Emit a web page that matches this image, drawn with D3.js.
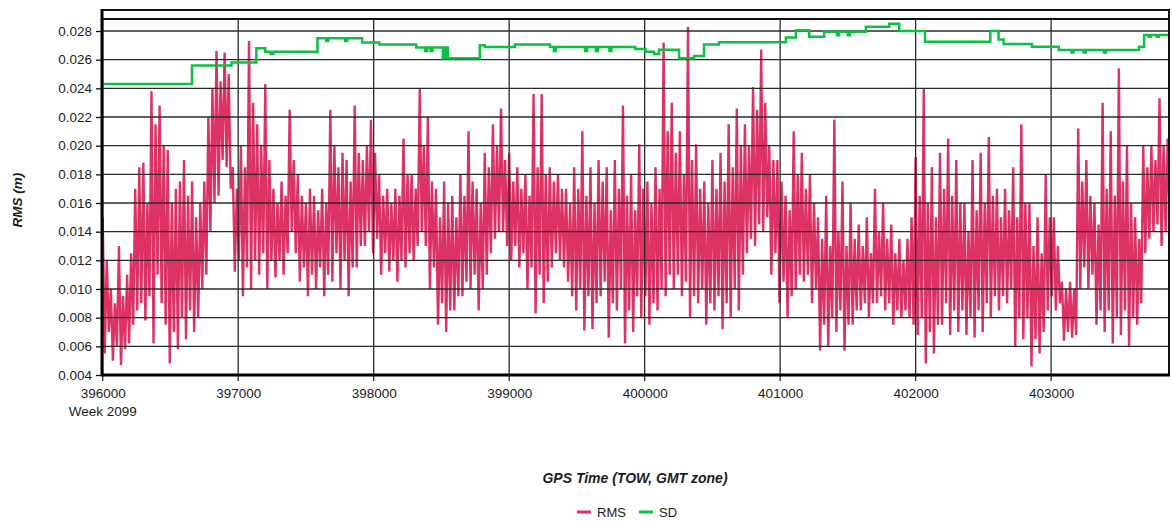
<!DOCTYPE html>
<html>
<head>
<meta charset="utf-8">
<script src="https://cdn.jsdelivr.net/npm/d3@7/dist/d3.min.js"></script>
<style>
  html, body { margin: 0; padding: 0; background: #fff; }
  svg { display: block; font-family: "Liberation Sans", Arial, sans-serif; }
</style>
</head>
<body>
<div id="chart"></div>
<script>
// ---- data ----
var xTicks = [396000, 397000, 398000, 399000, 400000, 401000, 402000, 403000];
var yTicks = [0.004, 0.006, 0.008, 0.010, 0.012, 0.014, 0.016, 0.018, 0.020, 0.022, 0.024, 0.026, 0.028];
var weekLabel = "Week 2099";

// RMS samples, one every 15 s from TOW 396000 (four per row-minute: spike, dip, peak, trough)
var rmsStart = 396000, rmsStep = 15;
var rmsValues = [
  0.0150, 0.0055, 0.0120, 0.0070,  0.0100, 0.0050, 0.0090, 0.0060,  0.0130, 0.0047, 0.0095, 0.0058,
  0.0110, 0.0062, 0.0125, 0.0075,  0.0170, 0.0085, 0.0185, 0.0090,  0.0188, 0.0078, 0.0160, 0.0095,
  0.0238, 0.0062, 0.0215, 0.0110,  0.0228, 0.0090, 0.0200, 0.0075,  0.0197, 0.0048, 0.0160, 0.0070,
  0.0170, 0.0058, 0.0175, 0.0080,  0.0190, 0.0065, 0.0165, 0.0085,  0.0175, 0.0070, 0.0150, 0.0080,
  0.0160, 0.0100, 0.0175, 0.0110,  0.0220, 0.0140, 0.0240, 0.0160,  0.0266, 0.0165, 0.0245, 0.0190,
  0.0265, 0.0185, 0.0250, 0.0170,  0.0185, 0.0112, 0.0170, 0.0120,  0.0200, 0.0095, 0.0185, 0.0115,
  0.0273, 0.0100, 0.0230, 0.0120,  0.0215, 0.0110, 0.0200, 0.0125,  0.0243, 0.0100, 0.0190, 0.0120,
  0.0170, 0.0108, 0.0160, 0.0120,  0.0175, 0.0110, 0.0165, 0.0125,  0.0225, 0.0140, 0.0190, 0.0125,
  0.0180, 0.0105, 0.0165, 0.0115,  0.0160, 0.0095, 0.0170, 0.0110,  0.0165, 0.0100, 0.0155, 0.0115,
  0.0170, 0.0095, 0.0160, 0.0110,  0.0225, 0.0105, 0.0200, 0.0125,  0.0185, 0.0100, 0.0195, 0.0120,
  0.0190, 0.0095, 0.0175, 0.0115,  0.0228, 0.0115, 0.0195, 0.0130,  0.0190, 0.0130, 0.0200, 0.0140,
  0.0218, 0.0125, 0.0195, 0.0135,  0.0180, 0.0110, 0.0165, 0.0125,  0.0170, 0.0112, 0.0160, 0.0120,
  0.0170, 0.0105, 0.0165, 0.0120,  0.0205, 0.0115, 0.0180, 0.0125,  0.0180, 0.0120, 0.0170, 0.0130,
  0.0240, 0.0140, 0.0200, 0.0130,  0.0220, 0.0100, 0.0175, 0.0115,  0.0170, 0.0075, 0.0150, 0.0090,
  0.0175, 0.0070, 0.0160, 0.0085,  0.0165, 0.0085, 0.0150, 0.0095,  0.0180, 0.0095, 0.0165, 0.0105,
  0.0210, 0.0100, 0.0175, 0.0110,  0.0170, 0.0085, 0.0160, 0.0100,  0.0195, 0.0110, 0.0185, 0.0125,
  0.0215, 0.0135, 0.0200, 0.0140,  0.0226, 0.0140, 0.0190, 0.0130,  0.0195, 0.0120, 0.0175, 0.0130,
  0.0185, 0.0115, 0.0170, 0.0125,  0.0180, 0.0100, 0.0165, 0.0115,  0.0236, 0.0083, 0.0185, 0.0110,
  0.0236, 0.0090, 0.0180, 0.0105,  0.0185, 0.0115, 0.0175, 0.0125,  0.0180, 0.0120, 0.0170, 0.0115,
  0.0170, 0.0105, 0.0160, 0.0095,  0.0185, 0.0085, 0.0170, 0.0100,  0.0210, 0.0071, 0.0165, 0.0095,
  0.0185, 0.0072, 0.0160, 0.0090,  0.0190, 0.0095, 0.0175, 0.0105,  0.0185, 0.0066, 0.0155, 0.0090,
  0.0190, 0.0085, 0.0170, 0.0100,  0.0228, 0.0062, 0.0165, 0.0085,  0.0180, 0.0070, 0.0155, 0.0095,
  0.0201, 0.0080, 0.0170, 0.0095,  0.0175, 0.0075, 0.0160, 0.0090,  0.0185, 0.0085, 0.0170, 0.0100,
  0.0272, 0.0095, 0.0210, 0.0110,  0.0230, 0.0100, 0.0195, 0.0110,  0.0210, 0.0095, 0.0180, 0.0105,
  0.0283, 0.0080, 0.0190, 0.0095,  0.0201, 0.0090, 0.0170, 0.0100,  0.0175, 0.0075, 0.0160, 0.0090,
  0.0190, 0.0085, 0.0170, 0.0095,  0.0195, 0.0072, 0.0175, 0.0090,  0.0215, 0.0080, 0.0185, 0.0100,
  0.0226, 0.0085, 0.0200, 0.0110,  0.0215, 0.0125, 0.0200, 0.0135,  0.0241, 0.0130, 0.0225, 0.0145,
  0.0267, 0.0140, 0.0230, 0.0150,  0.0200, 0.0110, 0.0190, 0.0125,  0.0190, 0.0090, 0.0175, 0.0105,
  0.0165, 0.0080, 0.0155, 0.0095,  0.0210, 0.0100, 0.0180, 0.0110,  0.0195, 0.0105, 0.0170, 0.0110,
  0.0180, 0.0090, 0.0160, 0.0100,  0.0150, 0.0057, 0.0135, 0.0075,  0.0165, 0.0060, 0.0130, 0.0080,
  0.0218, 0.0070, 0.0140, 0.0085,  0.0175, 0.0057, 0.0130, 0.0075,  0.0160, 0.0075, 0.0135, 0.0085,
  0.0145, 0.0085, 0.0130, 0.0090,  0.0150, 0.0080, 0.0125, 0.0090,  0.0170, 0.0090, 0.0140, 0.0095,
  0.0160, 0.0085, 0.0135, 0.0090,  0.0145, 0.0075, 0.0125, 0.0085,  0.0135, 0.0080, 0.0120, 0.0085,
  0.0135, 0.0080, 0.0150, 0.0075,  0.0192, 0.0068, 0.0165, 0.0080,  0.0240, 0.0048, 0.0160, 0.0070,
  0.0185, 0.0055, 0.0150, 0.0075,  0.0195, 0.0075, 0.0170, 0.0090,  0.0205, 0.0068, 0.0165, 0.0085,
  0.0190, 0.0070, 0.0160, 0.0085,  0.0160, 0.0068, 0.0140, 0.0080,  0.0190, 0.0066, 0.0155, 0.0085,
  0.0195, 0.0070, 0.0160, 0.0090,  0.0206, 0.0080, 0.0165, 0.0095,  0.0170, 0.0085, 0.0150, 0.0095,
  0.0170, 0.0090, 0.0155, 0.0100,  0.0185, 0.0060, 0.0150, 0.0080,  0.0215, 0.0065, 0.0160, 0.0080,
  0.0160, 0.0046, 0.0130, 0.0065,  0.0150, 0.0055, 0.0125, 0.0070,  0.0180, 0.0085, 0.0150, 0.0095,
  0.0150, 0.0085, 0.0130, 0.0090,  0.0105, 0.0064, 0.0100, 0.0070,  0.0105, 0.0066, 0.0100, 0.0068,
  0.0212, 0.0100, 0.0175, 0.0115,  0.0190, 0.0100, 0.0165, 0.0110,  0.0160, 0.0075, 0.0145, 0.0085,
  0.0230, 0.0070, 0.0170, 0.0085,  0.0210, 0.0062, 0.0165, 0.0080,  0.0254, 0.0068, 0.0175, 0.0085,
  0.0200, 0.0060, 0.0160, 0.0080,  0.0150, 0.0075, 0.0135, 0.0090,  0.0200, 0.0125, 0.0185, 0.0135,
  0.0200, 0.0140, 0.0190, 0.0145,  0.0233, 0.0130, 0.0200, 0.0140,  0.0205, 0.0150, 0.0190, 0.0155
];

// SD is a step series: time of each change, and the value from then on
var sdTime = [
  396000, 396659, 396951, 397134, 397200, 397240, 397260, 397585, 397650, 397665,
  397790, 397805, 397915, 398042, 398314, 398380, 398395, 398420, 398435, 398511,
  398530, 398548, 398783, 398820, 399042, 399301, 399330, 399345, 399560, 399575,
  399640, 399655, 399740, 399755, 399931, 400007, 400069, 400106, 400254, 400365,
  400438, 400549, 401042, 401116, 401214, 401325, 401420, 401435, 401500, 401515,
  401633, 401805, 401879, 402069, 402551, 402612, 402649, 402859, 403057, 403150,
  403165, 403240, 403255, 403390, 403405, 403649, 403686, 403720, 403735, 403780,
  403795, 403870
];
var sdValue = [
  0.0243, 0.0256, 0.0258, 0.0268, 0.02655, 0.0264, 0.02655, 0.0275, 0.0273, 0.0275,
  0.0273, 0.0275, 0.0272, 0.02705, 0.02685, 0.0266, 0.02685, 0.0266, 0.02685, 0.0261,
  0.02685, 0.0261, 0.0270, 0.02688, 0.02705, 0.02688, 0.0266, 0.02688, 0.0266, 0.02688,
  0.0266, 0.02688, 0.0266, 0.02688, 0.02675, 0.02655, 0.0264, 0.0267, 0.0261, 0.02625,
  0.02705, 0.02722, 0.02755, 0.02805, 0.0276, 0.02795, 0.0277, 0.02795, 0.0277, 0.02795,
  0.0283, 0.0285, 0.0280, 0.02725, 0.0280, 0.0274, 0.0271, 0.0269, 0.02667, 0.0265,
  0.02667, 0.0265, 0.02667, 0.0265, 0.02667, 0.0269, 0.02772, 0.0276, 0.02772, 0.0276,
  0.02772, 0.02772
];

var seriesNames = ["RMS", "SD"];
var seriesColors = ["#dc3264", "#0cc040"];

// ---- layout ----
var width = 1172, height = 521;
var plot = { left: 102, right: 1169, top: 10, inner: 19, bottom: 375 };

var x = d3.scaleLinear().domain([396000, 403870]).range([102.7, 1169]);
var y = d3.scaleLinear().domain([0.004, 0.028]).range([375, 31]);

var svg = d3.select('#chart')
  .append('svg')
    .attr('width', width)
    .attr('height', height);

svg.append('defs')
  .append('clipPath')
    .attr('id', 'plotClip')
  .append('rect')
    .attr('x', plot.left)
    .attr('y', plot.top)
    .attr('width', plot.right - plot.left)
    .attr('height', plot.bottom - plot.top);

var rmsData = rmsValues.map(function (v, i) {
  return { t: rmsStart + i * rmsStep, v: v };
});
var sdData = sdTime.map(function (t, i) {
  return { t: t, v: sdValue[i] };
});

var line = d3.line()
  .x(function (d) { return x(d.t); })
  .y(function (d) { return y(d.v); });

// RMS sits under the grid
svg.append('path')
  .datum(rmsData)
  .attr('clip-path', 'url(#plotClip)')
  .attr('fill', 'none')
  .attr('stroke', seriesColors[0])
  .attr('stroke-width', 2.4)
  .attr('stroke-linejoin', 'bevel')
  .attr('d', line);

// grid
var grid = svg.append('g').attr('class', 'grid');
grid.selectAll('line.h')
  .data(yTicks)
  .enter().append('line')
    .attr('x1', plot.left)
    .attr('x2', plot.right)
    .attr('y1', function (d) { return y(d); })
    .attr('y2', function (d) { return y(d); })
    .attr('stroke', '#2b2b2b')
    .attr('stroke-width', 1.3);
grid.selectAll('line.v')
  .data(xTicks)
  .enter().append('line')
    .attr('x1', function (d) { return x(d); })
    .attr('x2', function (d) { return x(d); })
    .attr('y1', plot.inner)
    .attr('y2', plot.bottom + 6)
    .attr('stroke', '#2b2b2b')
    .attr('stroke-width', 1.3);

// SD step line on top
svg.append('path')
  .datum(sdData)
  .attr('clip-path', 'url(#plotClip)')
  .attr('fill', 'none')
  .attr('stroke', seriesColors[1])
  .attr('stroke-width', 2.5)
  .attr('d', line.curve(d3.curveStepAfter));

// frame
svg.append('line')
  .attr('x1', plot.left).attr('x2', plot.right + 1)
  .attr('y1', plot.top).attr('y2', plot.top)
  .attr('stroke', '#111').attr('stroke-width', 2.2);
svg.append('line')
  .attr('x1', plot.left).attr('x2', plot.right + 1)
  .attr('y1', plot.inner).attr('y2', plot.inner)
  .attr('stroke', '#111').attr('stroke-width', 2);
svg.append('line')
  .attr('x1', plot.right).attr('x2', plot.right)
  .attr('y1', plot.top - 1).attr('y2', plot.bottom)
  .attr('stroke', '#111').attr('stroke-width', 2);
svg.append('line')
  .attr('x1', plot.left).attr('x2', plot.right + 1)
  .attr('y1', plot.bottom).attr('y2', plot.bottom)
  .attr('stroke', '#000').attr('stroke-width', 3);
svg.append('line')
  .attr('x1', plot.left).attr('x2', plot.left)
  .attr('y1', plot.top - 1).attr('y2', plot.bottom + 1.5)
  .attr('stroke', '#000').attr('stroke-width', 3);

// axes
var yAxis = svg.append('g')
  .attr('transform', 'translate(' + (plot.left - 1) + ',0)')
  .call(d3.axisLeft(y)
    .tickValues(yTicks)
    .tickFormat(d3.format('.3f'))
    .tickSize(5)
    .tickPadding(4));
yAxis.select('.domain').remove();
yAxis.selectAll('.tick line').attr('stroke', '#111').attr('stroke-width', 1.3);
yAxis.selectAll('.tick text')
  .attr('fill', '#1c1c1c')
  .style('font-size', '13.5px')
  .style('font-family', '"Liberation Sans", Arial, sans-serif');

var xAxis = svg.append('g')
  .attr('transform', 'translate(0,' + plot.bottom + ')')
  .call(d3.axisBottom(x)
    .tickValues(xTicks)
    .tickFormat(d3.format('d'))
    .tickSize(0)
    .tickPadding(13));
xAxis.select('.domain').remove();
xAxis.selectAll('.tick text')
  .attr('fill', '#1c1c1c')
  .style('font-size', '13.5px')
  .style('font-family', '"Liberation Sans", Arial, sans-serif');

svg.append('text')
  .attr('x', x(xTicks[0]))
  .attr('y', 416)
  .attr('text-anchor', 'middle')
  .attr('fill', '#1c1c1c')
  .style('font-size', '13.5px')
  .text(weekLabel);

// titles
svg.append('text')
  .attr('transform', 'translate(22,200) rotate(-90)')
  .attr('text-anchor', 'middle')
  .attr('fill', '#1c1c1c')
  .style('font-size', '13.5px')
  .style('font-weight', 'bold')
  .style('font-style', 'italic')
  .text('RMS (m)');

svg.append('text')
  .attr('x', 635)
  .attr('y', 483)
  .attr('text-anchor', 'middle')
  .attr('fill', '#1c1c1c')
  .style('font-size', '14px')
  .style('font-weight', 'bold')
  .style('font-style', 'italic')
  .text('GPS Time (TOW, GMT zone)');

// legend
var legendX = [577, 639];
var legend = svg.selectAll('g.legend')
  .data(seriesNames)
  .enter().append('g')
    .attr('class', 'legend')
    .attr('transform', function (d, i) { return 'translate(' + legendX[i] + ',512)'; });
legend.append('line')
  .attr('x1', 0).attr('x2', 14)
  .attr('stroke', function (d, i) { return seriesColors[i]; })
  .attr('stroke-width', 3);
legend.append('text')
  .attr('x', 20)
  .attr('y', 5)
  .attr('fill', '#1c1c1c')
  .style('font-size', '13px')
  .text(function (d) { return d; });
</script>
</body>
</html>
